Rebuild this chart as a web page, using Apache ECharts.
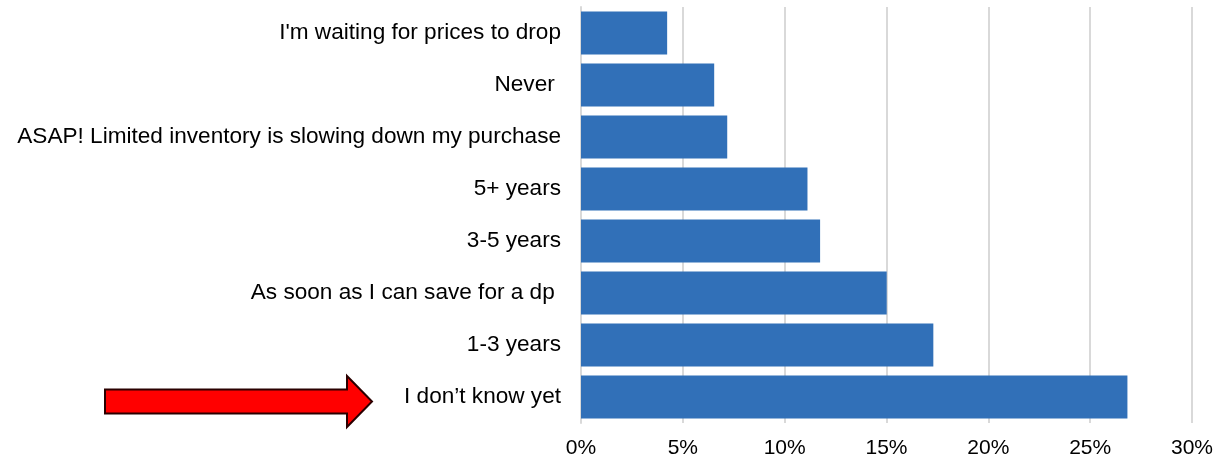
<!DOCTYPE html>
<html>
<head>
<meta charset="utf-8">
<script src="https://cdn.jsdelivr.net/npm/echarts@6/dist/echarts.min.js"></script>
<style>html,body{margin:0;padding:0;background:#fff;}#c{width:1216px;height:461px;}</style>
</head>
<body>
<div id="c"></div>
<script>
const categories = [
  "I'm waiting for prices to drop",
  "Never ",
  "ASAP! Limited inventory is slowing down my purchase",
  "5+ years",
  "3-5 years",
  "As soon as I can save for a dp ",
  "1-3 years",
  "I don\u2019t know yet"
];
const values = [0.0423, 0.0654, 0.0718, 0.1112, 0.1174, 0.1501, 0.1730, 0.2683];
const xTicks = { min: 0, max: 0.30, interval: 0.05 };

const chart = echarts.init(document.getElementById('c'), null, { renderer: 'canvas' });
const FONT = '"Liberation Sans", Arial, sans-serif';
chart.setOption({
  animation: false,
  backgroundColor: '#ffffff',
  grid: { left: 581, right: 23.5, top: 7, bottom: 38 },
  xAxis: {
    type: 'value', min: xTicks.min, max: xTicks.max, interval: xTicks.interval,
    axisLine: { show: false }, axisTick: { show: false },
    splitLine: { show: true, lineStyle: { color: '#d9d9d9', width: 2 } },
    axisLabel: { formatter: v => Math.round(v * 100) + '%', color: '#000', fontFamily: FONT, fontSize: 21, margin: 15 }
  },
  yAxis: {
    type: 'category', data: categories, inverse: true,
    axisLine: { show: true, lineStyle: { color: '#d9d9d9', width: 2 } },
    axisTick: { show: false },
    axisLabel: { color: '#000', fontFamily: FONT, fontSize: 22.6, margin: 20 }
  },
  series: [{
    type: 'bar', data: values, barCategoryGap: '17%',
    itemStyle: { color: '#3170b8' }
  }],
  graphic: [{
    type: 'polygon',
    shape: { points: [[105, 389.5], [347, 389.5], [347, 376], [372, 401.5], [347, 427], [347, 413.5], [105, 413.5]] },
    style: { fill: '#ff0000', stroke: '#2a0000', lineWidth: 2 }
  }]
});
</script>
</body>
</html>
